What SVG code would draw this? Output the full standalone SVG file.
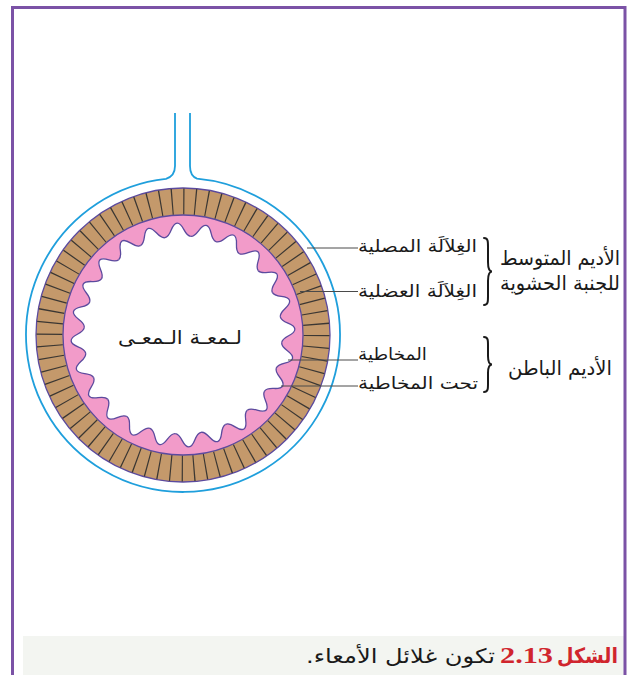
<svg xmlns="http://www.w3.org/2000/svg" xmlns:xlink="http://www.w3.org/1999/xlink" width="632" height="675" viewBox="0 0 632 675">
  <style>
    .ar { font-family: "DejaVu Sans", sans-serif; fill: #1a1a1a; direction: rtl; unicode-bidi: embed; }
    .lbl { font-size: 17px; }
    .grp { font-size: 20px; }
    .lead { stroke: #4a4a4a; stroke-width: 1; fill: none; }
    .brace { stroke: #1a1a1a; stroke-width: 2; fill: none; stroke-linecap: round; }
    .edge { stroke: #5b4a9e; stroke-width: 1.3; }
  </style>
  <defs>
    <!-- one period of the lumen outline: tooth tip, villus lobe, tooth tip -->
    <path id="lobeFill" d="M0,0 L-12.92,-98.15 C-5.98,-99.06 -6.5,-112 0,-112 C6.5,-112 5.98,-99.06 12.92,-98.15 Z" fill="#ffffff"/>
    <path id="lobeEdge" d="M-12.92,-98.15 C-5.98,-99.06 -6.5,-112 0,-112 C6.5,-112 5.98,-99.06 12.92,-98.15" fill="none" stroke="#5b4a9e" stroke-width="1.3"/>
  </defs>

  <!-- page frame and caption band -->
  <rect x="23" y="636" width="601" height="39" fill="#f3f5f1"/>
  <path d="M12.5,675 V7.5 H625 V675" fill="none" stroke="#7b52a6" stroke-width="3"/>

  <!-- gut cross-section -->
  <g id="section">
    <g id="serosa">
      <path d="M175,113 V166 Q175,176 166,178.9 A157,157 0 1,0 197,178.6 Q190,176 190,166 V113" fill="none" stroke="#1f9fdc" stroke-width="1.8"/>
    </g>
    <g id="muscularis">
      <circle cx="183" cy="335" r="147" fill="#c4996b" class="edge"/>
      <circle cx="183" cy="335" r="133.5" fill="none" stroke="#3b3733" stroke-width="26" stroke-dasharray="1.2 10.45"/>
    </g>
    <g id="mucosa">
      <circle cx="183" cy="335" r="120" fill="#f29bc9" class="edge"/>
    </g>
    <g id="lumen" transform="translate(183 335) rotate(-3)">
      <circle r="98.5" fill="#ffffff"/>
      <use xlink:href="#lobeFill"/>
      <use xlink:href="#lobeFill" transform="rotate(15)"/>
      <use xlink:href="#lobeFill" transform="rotate(30)"/>
      <use xlink:href="#lobeFill" transform="rotate(45)"/>
      <use xlink:href="#lobeFill" transform="rotate(60)"/>
      <use xlink:href="#lobeFill" transform="rotate(75)"/>
      <use xlink:href="#lobeFill" transform="rotate(90)"/>
      <use xlink:href="#lobeFill" transform="rotate(105)"/>
      <use xlink:href="#lobeFill" transform="rotate(120)"/>
      <use xlink:href="#lobeFill" transform="rotate(135)"/>
      <use xlink:href="#lobeFill" transform="rotate(150)"/>
      <use xlink:href="#lobeFill" transform="rotate(165)"/>
      <use xlink:href="#lobeFill" transform="rotate(180)"/>
      <use xlink:href="#lobeFill" transform="rotate(195)"/>
      <use xlink:href="#lobeFill" transform="rotate(210)"/>
      <use xlink:href="#lobeFill" transform="rotate(225)"/>
      <use xlink:href="#lobeFill" transform="rotate(240)"/>
      <use xlink:href="#lobeFill" transform="rotate(255)"/>
      <use xlink:href="#lobeFill" transform="rotate(270)"/>
      <use xlink:href="#lobeFill" transform="rotate(285)"/>
      <use xlink:href="#lobeFill" transform="rotate(300)"/>
      <use xlink:href="#lobeFill" transform="rotate(315)"/>
      <use xlink:href="#lobeFill" transform="rotate(330)"/>
      <use xlink:href="#lobeFill" transform="rotate(345)"/>
      <use xlink:href="#lobeEdge"/>
      <use xlink:href="#lobeEdge" transform="rotate(15)"/>
      <use xlink:href="#lobeEdge" transform="rotate(30)"/>
      <use xlink:href="#lobeEdge" transform="rotate(45)"/>
      <use xlink:href="#lobeEdge" transform="rotate(60)"/>
      <use xlink:href="#lobeEdge" transform="rotate(75)"/>
      <use xlink:href="#lobeEdge" transform="rotate(90)"/>
      <use xlink:href="#lobeEdge" transform="rotate(105)"/>
      <use xlink:href="#lobeEdge" transform="rotate(120)"/>
      <use xlink:href="#lobeEdge" transform="rotate(135)"/>
      <use xlink:href="#lobeEdge" transform="rotate(150)"/>
      <use xlink:href="#lobeEdge" transform="rotate(165)"/>
      <use xlink:href="#lobeEdge" transform="rotate(180)"/>
      <use xlink:href="#lobeEdge" transform="rotate(195)"/>
      <use xlink:href="#lobeEdge" transform="rotate(210)"/>
      <use xlink:href="#lobeEdge" transform="rotate(225)"/>
      <use xlink:href="#lobeEdge" transform="rotate(240)"/>
      <use xlink:href="#lobeEdge" transform="rotate(255)"/>
      <use xlink:href="#lobeEdge" transform="rotate(270)"/>
      <use xlink:href="#lobeEdge" transform="rotate(285)"/>
      <use xlink:href="#lobeEdge" transform="rotate(300)"/>
      <use xlink:href="#lobeEdge" transform="rotate(315)"/>
      <use xlink:href="#lobeEdge" transform="rotate(330)"/>
      <use xlink:href="#lobeEdge" transform="rotate(345)"/>
    </g>
    <text class="ar" x="242" y="344" font-size="19" textLength="124" lengthAdjust="spacingAndGlyphs">لـمعـة الـمعـى</text>
  </g>

  <!-- leader lines -->
  <g id="connectors">
    <path class="lead" d="M307,248 H358"/>
    <path class="lead" d="M300,291.5 H358"/>
    <path class="lead" d="M288,360 H358"/>
    <path class="lead" d="M281,386 H358"/>
  </g>

  <g id="label-serosa">
    <text class="ar lbl" x="477" y="252" textLength="119" lengthAdjust="spacingAndGlyphs">الغِلاَلَة المصلية</text>
  </g>
  <g id="label-muscularis">
    <text class="ar lbl" x="477" y="297" textLength="119" lengthAdjust="spacingAndGlyphs">الغِلاَلَة العضلية</text>
  </g>
  <g id="label-mucosa">
    <text class="ar lbl" x="427" y="360" textLength="69" lengthAdjust="spacingAndGlyphs">المخاطية</text>
  </g>
  <g id="label-submucosa">
    <text class="ar lbl" x="478" y="389" textLength="120" lengthAdjust="spacingAndGlyphs">تحت المخاطية</text>
  </g>

  <!-- grouping braces -->
  <g id="brace-mesoderm">
    <path class="brace" d="M484,238 C488.5,238 488,242 488,250 V262 C488,268 489,271.5 492,271.5 C489,271.5 488,275 488,281 V293 C488,301 488.5,305 484,305"/>
  </g>
  <g id="brace-endoderm">
    <path class="brace" d="M484,337 C488.5,337 488,341 488,348 V356 C488,361 489,364.5 492,364.5 C489,364.5 488,368 488,373 V381 C488,388 488.5,392 484,392"/>
  </g>

  <g id="group-mesoderm">
    <text class="ar grp" x="620" y="265" textLength="120" lengthAdjust="spacingAndGlyphs">الأديم المتوسط</text>
    <text class="ar grp" x="620" y="290" textLength="120" lengthAdjust="spacingAndGlyphs">للجنبة الحشوية</text>
  </g>
  <g id="group-endoderm">
    <text class="ar grp" x="612" y="375" textLength="104" lengthAdjust="spacingAndGlyphs">الأديم الباطن</text>
  </g>

  <!-- caption -->
  <g id="caption">
    <text class="ar" x="618" y="663" font-size="21" font-weight="bold" style="fill:#d0252d" textLength="61" lengthAdjust="spacingAndGlyphs">الشكل</text>
    <text x="500" y="663" font-family="'Liberation Serif', serif" font-size="24" font-weight="bold" fill="#d0252d" textLength="53" lengthAdjust="spacingAndGlyphs">2.13</text>
    <text class="ar" x="495" y="663" font-size="20" textLength="189" lengthAdjust="spacingAndGlyphs">تكون غلائل الأمعاء.</text>
  </g>
</svg>
